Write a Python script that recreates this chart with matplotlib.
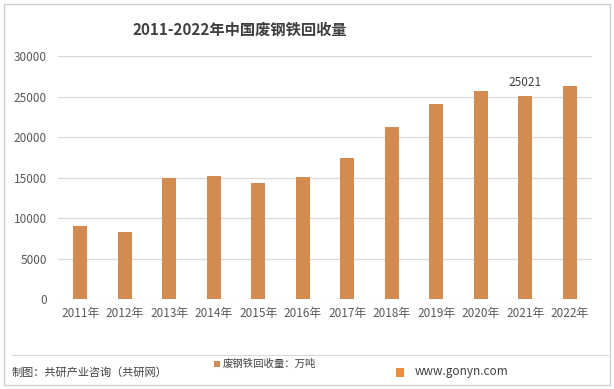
import matplotlib.pyplot as plt
from matplotlib.patches import Rectangle

plt.rcParams['font.family'] = ['Noto Sans CJK SC', 'DejaVu Sans']

years = ['2011年', '2012年', '2013年', '2014年', '2015年', '2016年',
         '2017年', '2018年', '2019年', '2020年', '2021年', '2022年']
recycle = [9000, 8300, 14950, 15200, 14350, 15100,
           17350, 21250, 24100, 25700, 25021, 26300]
yticks = [0, 5000, 10000, 15000, 20000, 25000, 30000]

bar_color = '#D48B50'
text_color = '#595959'

fig = plt.figure(figsize=(6.14, 3.89), dpi=100)
ax = fig.add_axes([58 / 614, 1 - 299 / 389, (592 - 58) / 614, (299 - 56) / 389])

x = list(range(len(years)))
ax.bar(x, recycle, width=0.32, color=bar_color, zorder=3)
ax.set_xlim(-0.5, len(years) - 0.5)
ax.set_ylim(0, 30000)
ax.set_yticks(yticks)
ax.set_xticks(x)
ax.set_xticklabels(years)
ax.tick_params(axis='both', length=0, colors=text_color, labelsize=8.5)
ax.tick_params(axis='y', pad=8)
ax.tick_params(axis='x', pad=6)
ax.grid(axis='y', color='#D9D9D9', linewidth=0.9, zorder=0)
for s in ax.spines.values():
    s.set_visible(False)

# label on 2021 bar
ax.text(10, recycle[10] + 900, '25021', ha='center', va='bottom',
        fontsize=8.5, color='#404040')

fig.text(240 / 614, 1 - 30 / 389, '2011-2022年中国废钢铁回收量', ha='center', va='center',
         fontsize=11, fontweight='bold', color='#404040')

# outer frame and footer line
fig.patches.append(Rectangle((4 / 614, 4 / 389), 606 / 614, 381 / 389, transform=fig.transFigure,
                             fill=False, edgecolor='#D0D0D0', linewidth=1))
fig.add_artist(plt.Line2D([12 / 614, 608 / 614], [1 - 355 / 389, 1 - 355 / 389],
                          transform=fig.transFigure, color='#D9D9D9', linewidth=0.8))

fig.patches.append(Rectangle((214 / 614, 1 - 367 / 389), 6 / 614, 6 / 389, transform=fig.transFigure,
                             facecolor=bar_color, edgecolor='none'))
fig.text(223 / 614, 1 - 364 / 389, '废钢铁回收量：万吨', ha='left', va='center',
         fontsize=7.5, color='#404040')
fig.text(12 / 614, 1 - 373 / 389, '制图：共研产业咨询（共研网）', ha='left', va='center',
         fontsize=8, color='#404040')
fig.patches.append(Rectangle((396 / 614, 1 - 377 / 389), 8 / 614, 9 / 389, transform=fig.transFigure,
                             facecolor='#F08A3C', edgecolor='none'))
fig.text(415 / 614, 1 - 372 / 389, 'www.gonyn.com', ha='left', va='center',
         fontsize=8.5, color='#404040')

fig.savefig('out.png', dpi=100)
